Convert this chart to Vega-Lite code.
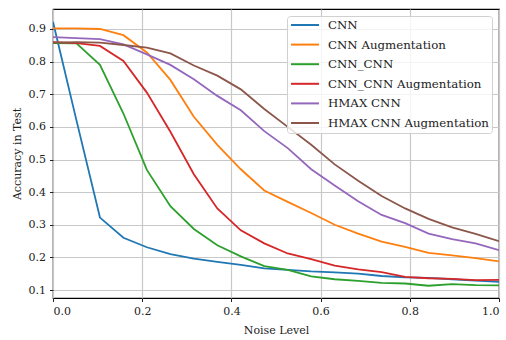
{
  "$schema": "https://vega.github.io/schema/vega-lite/v6.json",
  "width": 446,
  "height": 289,
  "autosize": {"type": "none"},
  "padding": {"left": 53, "top": 9, "right": 7, "bottom": 42},
  "background": "white",
  "config": {
    "font": "DejaVu Serif",
    "view": {"stroke": "black", "strokeWidth": 1.2},
    "axis": {
      "labelFont": "DejaVu Serif",
      "titleFont": "DejaVu Serif",
      "labelFontSize": 11,
      "titleFontSize": 11,
      "labelColor": "#222",
      "titleColor": "#222",
      "titleFontWeight": "normal",
      "gridColor": "#c8c8c8",
      "gridWidth": 1.2,
      "domain": false,
      "tickColor": "#222",
      "tickSize": 3.5,
      "tickWidth": 1
    },
    "legend": {
      "labelFont": "DejaVu Serif",
      "labelFontSize": 11.8,
      "labelColor": "#222",
      "labelLimit": 300
    }
  },
  "data": {
    "values": [
      {"x": 0, "acc": 0.922, "model": "CNN"},
      {"x": 0.0526, "acc": 0.62, "model": "CNN"},
      {"x": 0.1053, "acc": 0.322, "model": "CNN"},
      {"x": 0.1579, "acc": 0.26, "model": "CNN"},
      {"x": 0.2105, "acc": 0.231, "model": "CNN"},
      {"x": 0.2632, "acc": 0.21, "model": "CNN"},
      {"x": 0.3158, "acc": 0.196, "model": "CNN"},
      {"x": 0.3684, "acc": 0.186, "model": "CNN"},
      {"x": 0.4211, "acc": 0.177, "model": "CNN"},
      {"x": 0.4737, "acc": 0.166, "model": "CNN"},
      {"x": 0.5263, "acc": 0.162, "model": "CNN"},
      {"x": 0.5789, "acc": 0.157, "model": "CNN"},
      {"x": 0.6316, "acc": 0.154, "model": "CNN"},
      {"x": 0.6842, "acc": 0.15, "model": "CNN"},
      {"x": 0.7368, "acc": 0.143, "model": "CNN"},
      {"x": 0.7895, "acc": 0.139, "model": "CNN"},
      {"x": 0.8421, "acc": 0.137, "model": "CNN"},
      {"x": 0.8947, "acc": 0.133, "model": "CNN"},
      {"x": 0.9474, "acc": 0.129, "model": "CNN"},
      {"x": 1, "acc": 0.125, "model": "CNN"},

      {"x": 0, "acc": 0.902, "model": "CNN Augmentation"},
      {"x": 0.0526, "acc": 0.902, "model": "CNN Augmentation"},
      {"x": 0.1053, "acc": 0.9, "model": "CNN Augmentation"},
      {"x": 0.1579, "acc": 0.881, "model": "CNN Augmentation"},
      {"x": 0.2105, "acc": 0.828, "model": "CNN Augmentation"},
      {"x": 0.2632, "acc": 0.744, "model": "CNN Augmentation"},
      {"x": 0.3158, "acc": 0.631, "model": "CNN Augmentation"},
      {"x": 0.3684, "acc": 0.545, "model": "CNN Augmentation"},
      {"x": 0.4211, "acc": 0.47, "model": "CNN Augmentation"},
      {"x": 0.4737, "acc": 0.405, "model": "CNN Augmentation"},
      {"x": 0.5263, "acc": 0.37, "model": "CNN Augmentation"},
      {"x": 0.5789, "acc": 0.336, "model": "CNN Augmentation"},
      {"x": 0.6316, "acc": 0.3, "model": "CNN Augmentation"},
      {"x": 0.6842, "acc": 0.273, "model": "CNN Augmentation"},
      {"x": 0.7368, "acc": 0.248, "model": "CNN Augmentation"},
      {"x": 0.7895, "acc": 0.232, "model": "CNN Augmentation"},
      {"x": 0.8421, "acc": 0.214, "model": "CNN Augmentation"},
      {"x": 0.8947, "acc": 0.206, "model": "CNN Augmentation"},
      {"x": 0.9474, "acc": 0.198, "model": "CNN Augmentation"},
      {"x": 1, "acc": 0.188, "model": "CNN Augmentation"},

      {"x": 0, "acc": 0.857, "model": "CNN_CNN"},
      {"x": 0.0526, "acc": 0.856, "model": "CNN_CNN"},
      {"x": 0.1053, "acc": 0.79, "model": "CNN_CNN"},
      {"x": 0.1579, "acc": 0.641, "model": "CNN_CNN"},
      {"x": 0.2105, "acc": 0.468, "model": "CNN_CNN"},
      {"x": 0.2632, "acc": 0.357, "model": "CNN_CNN"},
      {"x": 0.3158, "acc": 0.287, "model": "CNN_CNN"},
      {"x": 0.3684, "acc": 0.237, "model": "CNN_CNN"},
      {"x": 0.4211, "acc": 0.203, "model": "CNN_CNN"},
      {"x": 0.4737, "acc": 0.173, "model": "CNN_CNN"},
      {"x": 0.5263, "acc": 0.162, "model": "CNN_CNN"},
      {"x": 0.5789, "acc": 0.142, "model": "CNN_CNN"},
      {"x": 0.6316, "acc": 0.133, "model": "CNN_CNN"},
      {"x": 0.6842, "acc": 0.128, "model": "CNN_CNN"},
      {"x": 0.7368, "acc": 0.122, "model": "CNN_CNN"},
      {"x": 0.7895, "acc": 0.12, "model": "CNN_CNN"},
      {"x": 0.8421, "acc": 0.113, "model": "CNN_CNN"},
      {"x": 0.8947, "acc": 0.118, "model": "CNN_CNN"},
      {"x": 0.9474, "acc": 0.115, "model": "CNN_CNN"},
      {"x": 1, "acc": 0.114, "model": "CNN_CNN"},

      {"x": 0, "acc": 0.86, "model": "CNN_CNN Augmentation"},
      {"x": 0.0526, "acc": 0.857, "model": "CNN_CNN Augmentation"},
      {"x": 0.1053, "acc": 0.848, "model": "CNN_CNN Augmentation"},
      {"x": 0.1579, "acc": 0.802, "model": "CNN_CNN Augmentation"},
      {"x": 0.2105, "acc": 0.705, "model": "CNN_CNN Augmentation"},
      {"x": 0.2632, "acc": 0.585, "model": "CNN_CNN Augmentation"},
      {"x": 0.3158, "acc": 0.455, "model": "CNN_CNN Augmentation"},
      {"x": 0.3684, "acc": 0.35, "model": "CNN_CNN Augmentation"},
      {"x": 0.4211, "acc": 0.283, "model": "CNN_CNN Augmentation"},
      {"x": 0.4737, "acc": 0.243, "model": "CNN_CNN Augmentation"},
      {"x": 0.5263, "acc": 0.212, "model": "CNN_CNN Augmentation"},
      {"x": 0.5789, "acc": 0.195, "model": "CNN_CNN Augmentation"},
      {"x": 0.6316, "acc": 0.175, "model": "CNN_CNN Augmentation"},
      {"x": 0.6842, "acc": 0.163, "model": "CNN_CNN Augmentation"},
      {"x": 0.7368, "acc": 0.155, "model": "CNN_CNN Augmentation"},
      {"x": 0.7895, "acc": 0.14, "model": "CNN_CNN Augmentation"},
      {"x": 0.8421, "acc": 0.136, "model": "CNN_CNN Augmentation"},
      {"x": 0.8947, "acc": 0.134, "model": "CNN_CNN Augmentation"},
      {"x": 0.9474, "acc": 0.13, "model": "CNN_CNN Augmentation"},
      {"x": 1, "acc": 0.131, "model": "CNN_CNN Augmentation"},

      {"x": 0, "acc": 0.875, "model": "HMAX CNN"},
      {"x": 0.0526, "acc": 0.872, "model": "HMAX CNN"},
      {"x": 0.1053, "acc": 0.869, "model": "HMAX CNN"},
      {"x": 0.1579, "acc": 0.853, "model": "HMAX CNN"},
      {"x": 0.2105, "acc": 0.822, "model": "HMAX CNN"},
      {"x": 0.2632, "acc": 0.79, "model": "HMAX CNN"},
      {"x": 0.3158, "acc": 0.746, "model": "HMAX CNN"},
      {"x": 0.3684, "acc": 0.695, "model": "HMAX CNN"},
      {"x": 0.4211, "acc": 0.651, "model": "HMAX CNN"},
      {"x": 0.4737, "acc": 0.587, "model": "HMAX CNN"},
      {"x": 0.5263, "acc": 0.535, "model": "HMAX CNN"},
      {"x": 0.5789, "acc": 0.47, "model": "HMAX CNN"},
      {"x": 0.6316, "acc": 0.42, "model": "HMAX CNN"},
      {"x": 0.6842, "acc": 0.372, "model": "HMAX CNN"},
      {"x": 0.7368, "acc": 0.33, "model": "HMAX CNN"},
      {"x": 0.7895, "acc": 0.305, "model": "HMAX CNN"},
      {"x": 0.8421, "acc": 0.273, "model": "HMAX CNN"},
      {"x": 0.8947, "acc": 0.256, "model": "HMAX CNN"},
      {"x": 0.9474, "acc": 0.243, "model": "HMAX CNN"},
      {"x": 1, "acc": 0.222, "model": "HMAX CNN"},

      {"x": 0, "acc": 0.858, "model": "HMAX CNN Augmentation"},
      {"x": 0.0526, "acc": 0.86, "model": "HMAX CNN Augmentation"},
      {"x": 0.1053, "acc": 0.858, "model": "HMAX CNN Augmentation"},
      {"x": 0.1579, "acc": 0.851, "model": "HMAX CNN Augmentation"},
      {"x": 0.2105, "acc": 0.843, "model": "HMAX CNN Augmentation"},
      {"x": 0.2632, "acc": 0.825, "model": "HMAX CNN Augmentation"},
      {"x": 0.3158, "acc": 0.788, "model": "HMAX CNN Augmentation"},
      {"x": 0.3684, "acc": 0.757, "model": "HMAX CNN Augmentation"},
      {"x": 0.4211, "acc": 0.715, "model": "HMAX CNN Augmentation"},
      {"x": 0.4737, "acc": 0.655, "model": "HMAX CNN Augmentation"},
      {"x": 0.5263, "acc": 0.6, "model": "HMAX CNN Augmentation"},
      {"x": 0.5789, "acc": 0.545, "model": "HMAX CNN Augmentation"},
      {"x": 0.6316, "acc": 0.485, "model": "HMAX CNN Augmentation"},
      {"x": 0.6842, "acc": 0.435, "model": "HMAX CNN Augmentation"},
      {"x": 0.7368, "acc": 0.388, "model": "HMAX CNN Augmentation"},
      {"x": 0.7895, "acc": 0.35, "model": "HMAX CNN Augmentation"},
      {"x": 0.8421, "acc": 0.318, "model": "HMAX CNN Augmentation"},
      {"x": 0.8947, "acc": 0.292, "model": "HMAX CNN Augmentation"},
      {"x": 0.9474, "acc": 0.272, "model": "HMAX CNN Augmentation"},
      {"x": 1, "acc": 0.25, "model": "HMAX CNN Augmentation"}
    ]
  },
  "mark": {"type": "line", "strokeWidth": 1.8, "clip": true},
  "encoding": {
    "x": {
      "field": "x",
      "type": "quantitative",
      "scale": {"domain": [0, 1], "nice": false, "zero": false},
      "axis": {"title": "Noise Level", "values": [0, 0.2, 0.4, 0.6, 0.8, 1.0], "format": ".1f", "titlePadding": 8, "labelPadding": 4}
    },
    "y": {
      "field": "acc",
      "type": "quantitative",
      "scale": {"domain": [0.0755, 0.9613], "nice": false, "zero": false},
      "axis": {"title": "Accuracy in Test", "values": [0.1, 0.2, 0.3, 0.4, 0.5, 0.6, 0.7, 0.8, 0.9], "format": ".1f", "titlePadding": 6, "labelPadding": 4}
    },
    "color": {
      "field": "model",
      "type": "nominal",
      "sort": ["CNN", "CNN Augmentation", "CNN_CNN", "CNN_CNN Augmentation", "HMAX CNN", "HMAX CNN Augmentation"],
      "scale": {
        "domain": ["CNN", "CNN Augmentation", "CNN_CNN", "CNN_CNN Augmentation", "HMAX CNN", "HMAX CNN Augmentation"],
        "range": ["#1f77b4", "#ff7f0e", "#2ca02c", "#d62728", "#9467bd", "#8c564b"]
      },
      "legend": {
        "title": null,
        "orient": "top-right",
        "offset": 7,
        "symbolType": "M-1,0H4.6",
        "symbolSize": 100,
        "symbolStrokeWidth": 2,
        "labelOffset": 26,
        "labelLimit": 300,
        "rowPadding": 6.6,
        "padding": 3,
        "fillColor": "rgba(255,255,255,0.8)",
        "strokeColor": "#d0d0d0",
        "cornerRadius": 3
      }
    }
  }
}
